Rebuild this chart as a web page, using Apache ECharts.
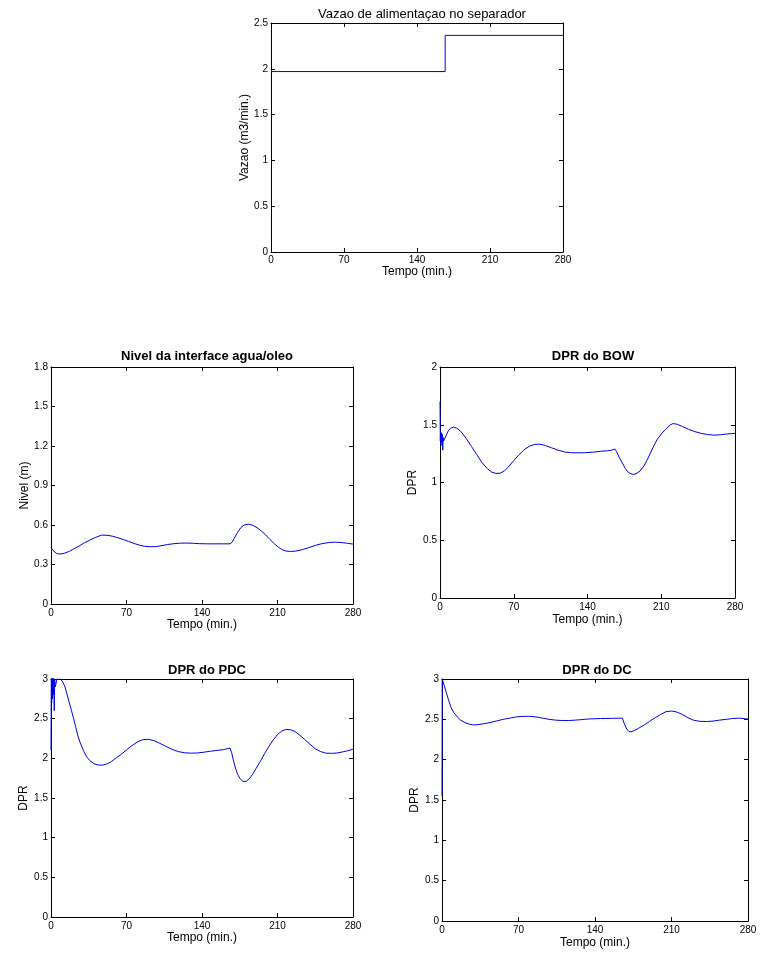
<!DOCTYPE html>
<html>
<head>
<meta charset="utf-8">
<script src="https://cdn.jsdelivr.net/npm/echarts@6/dist/echarts.min.js"></script>
<style>
html,body{margin:0;padding:0;background:#fff;}
#c{width:772px;height:953px;}
</style>
</head>
<body>
<div id="c"></div>
<script>
// ---- data ----
var timeTicks = [0, 70, 140, 210, 280];

var vazaoT = [0, 167, 167, 280];
var vazaoV = [1.97, 1.97, 2.365, 2.365];

var nivelT = [0, 1.5, 3, 5, 7, 10, 13, 17, 21, 26, 31, 36, 41, 47, 52, 57, 62, 67, 72, 77, 82, 87, 92, 97, 102, 108, 114, 120, 126, 132, 138, 145, 152, 160, 166, 168, 170, 173, 176, 179, 183, 187, 191, 195, 199, 203, 207, 211, 215, 218, 222, 227, 233, 239, 245, 251, 257, 263, 269, 275, 280];
var nivelV = [0.43, 0.41, 0.395, 0.385, 0.38, 0.381, 0.387, 0.40, 0.418, 0.44, 0.465, 0.485, 0.505, 0.523, 0.522, 0.515, 0.503, 0.49, 0.475, 0.46, 0.447, 0.438, 0.435, 0.436, 0.442, 0.452, 0.458, 0.462, 0.463, 0.461, 0.458, 0.457, 0.457, 0.457, 0.457, 0.47, 0.50, 0.545, 0.58, 0.60, 0.606, 0.598, 0.58, 0.555, 0.525, 0.49, 0.458, 0.43, 0.41, 0.402, 0.399, 0.402, 0.413, 0.428, 0.445, 0.458, 0.466, 0.47, 0.467, 0.461, 0.455];

var bowT = [0, 0.3, 0.6, 1.0, 1.4, 1.8, 2.2, 2.6, 3.0, 3.5, 4.5, 6, 8, 10, 13, 16, 20, 25, 30, 35, 40, 45, 49, 53, 57, 61, 65, 70, 75, 80, 85, 90, 95, 100, 106, 112, 118, 124, 130, 137, 145, 152, 159, 163, 166, 167.5, 170, 173, 176, 179, 183, 186, 190, 194, 198, 202, 206, 210, 214, 218, 221, 225, 230, 236, 242, 248, 254, 260, 266, 272, 280];
var bowV = [1.70, 1.36, 1.44, 1.32, 1.43, 1.35, 1.42, 1.28, 1.39, 1.36, 1.37, 1.41, 1.45, 1.47, 1.48, 1.47, 1.44, 1.38, 1.31, 1.24, 1.17, 1.12, 1.09, 1.079, 1.08, 1.10, 1.135, 1.19, 1.24, 1.285, 1.315, 1.33, 1.332, 1.32, 1.30, 1.28, 1.265, 1.258, 1.257, 1.258, 1.262, 1.27, 1.275, 1.28, 1.29, 1.27, 1.22, 1.17, 1.12, 1.085, 1.07, 1.075, 1.10, 1.15, 1.22, 1.30, 1.37, 1.42, 1.46, 1.495, 1.51, 1.505, 1.485, 1.46, 1.44, 1.425, 1.415, 1.41, 1.413, 1.42, 1.425];

var pdcT = [0, 0.3, 0.6, 1.0, 1.4, 1.8, 2.2, 2.6, 3.0, 3.4, 4.0, 5.5, 7, 9, 11, 13, 15, 17, 19, 21, 23, 25, 27, 30, 33, 36, 40, 44, 48, 52, 56, 60, 65, 70, 75, 80, 85, 90, 95, 100, 106, 112, 118, 124, 130, 136, 142, 148, 154, 160, 166, 167.5, 169, 171, 173, 175, 178, 181, 184, 187, 190, 194, 198, 202, 206, 210, 214, 218, 222, 226, 230, 235, 240, 245, 250, 255, 260, 265, 270, 275, 280];
var pdcV = [2.10, 3.2, 2.7, 3.1, 2.75, 3.1, 2.8, 3.05, 2.6, 3.0, 2.9, 3.0, 3.03, 3.0, 2.96, 2.9, 2.8, 2.7, 2.6, 2.5, 2.39, 2.28, 2.2, 2.1, 2.02, 1.97, 1.93, 1.915, 1.915, 1.93, 1.96, 2.0, 2.05, 2.105, 2.16, 2.205, 2.235, 2.24, 2.225, 2.195, 2.155, 2.115, 2.085, 2.07, 2.065, 2.068, 2.078, 2.09, 2.1, 2.11, 2.13, 2.07, 1.98, 1.88, 1.8, 1.75, 1.707, 1.71, 1.745, 1.8, 1.87, 1.96, 2.06, 2.15, 2.23, 2.3, 2.345, 2.365, 2.36, 2.34, 2.3, 2.24, 2.18, 2.12, 2.085, 2.065, 2.063, 2.067, 2.08, 2.095, 2.115];

var dcT = [0, 0.2, 2, 4, 6, 8.5, 11, 14, 17, 21, 25, 29, 33, 38, 44, 50, 56, 62, 68, 74, 80, 86, 92, 98, 104, 110, 116, 122, 128, 135, 145, 155, 165, 167, 169, 171, 173, 176, 180, 185, 190, 195, 200, 205, 210, 215, 220, 225, 230, 236, 242, 248, 254, 260, 266, 272, 280];
var dcV = [1.55, 3.0, 2.92, 2.83, 2.74, 2.64, 2.58, 2.53, 2.49, 2.46, 2.44, 2.43, 2.435, 2.445, 2.46, 2.48, 2.5, 2.515, 2.53, 2.537, 2.537, 2.53, 2.515, 2.5, 2.49, 2.485, 2.485, 2.49, 2.497, 2.505, 2.51, 2.512, 2.515, 2.44, 2.38, 2.35, 2.345, 2.36, 2.39, 2.43, 2.475, 2.52, 2.56, 2.595, 2.603, 2.59, 2.56, 2.52, 2.49, 2.475, 2.473, 2.478, 2.49, 2.5, 2.51, 2.515, 2.503];

var titles = ['Vazao de alimentaçao no separador', 'Nivel da interface agua/oleo', 'DPR do BOW', 'DPR do PDC', 'DPR do DC'];
var yNames = ['Vazao (m3/min.)', 'Nivel (m)', 'DPR', 'DPR', 'DPR'];
var xName = 'Tempo (min.)';
var yMax = [2.5, 1.8, 2, 3, 3];
var yStep = [0.5, 0.3, 0.5, 0.5, 0.5];

// ---- layout ----
var grids = [
  {left: 271, top: 23, width: 292, height: 229, tcx: 417, tcy: 3, xg: 13, yg: 17, lm: 3},
  {left: 51, top: 367, width: 302, height: 237, tcx: 202, tcy: 345, xg: 15, yg: 20, lm: 4},
  {left: 440, top: 367, width: 295, height: 231, tcx: 588, tcy: 345, xg: 16, yg: 21, lm: 4},
  {left: 51, top: 679, width: 302, height: 238, tcx: 202, tcy: 659, xg: 15, yg: 21, lm: 4},
  {left: 442, top: 679, width: 306, height: 242, tcx: 592, tcy: 659, xg: 16, yg: 21, lm: 4}
];
var allT = [vazaoT, nivelT, bowT, pdcT, dcT];
var allV = [vazaoV, nivelV, bowV, pdcV, dcV];

var FONT = 'Liberation Sans';
var option = {
  backgroundColor: '#fff',
  animation: false,
  title: [], grid: [], xAxis: [], yAxis: [], series: []
};

grids.forEach(function (g, i) {
  option.title.push({
    text: titles[i], left: g.tcx, top: g.tcy, textAlign: 'center',
    textStyle: {fontFamily: FONT, fontSize: 13, fontWeight: i === 0 ? 'normal' : 'bold', color: '#000'}
  });
  option.grid.push({left: g.left, top: g.top, width: g.width, height: g.height, show: false});
  var axLine = {show: true, onZero: false, lineStyle: {color: '#000', width: 1}};
  var tick = {show: true, inside: true, length: 4, lineStyle: {color: '#000'}};
  // bottom x
  option.xAxis.push({
    type: 'value', gridIndex: i, position: 'bottom', min: 0, max: 280, interval: 70,
    name: xName, nameLocation: 'middle', nameGap: g.xg,
    nameTextStyle: {fontFamily: FONT, fontSize: 12, color: '#000'},
    axisLine: axLine, axisTick: tick, splitLine: {show: false},
    axisLabel: {fontFamily: FONT, fontSize: 10, color: '#000', margin: g.lm}
  });
  // top x
  option.xAxis.push({
    type: 'value', gridIndex: i, position: 'top', min: 0, max: 280, interval: 70,
    axisLine: axLine, axisTick: tick, splitLine: {show: false}, axisLabel: {show: false}
  });
  // left y
  option.yAxis.push({
    type: 'value', gridIndex: i, position: 'left', min: 0, max: yMax[i], interval: yStep[i],
    name: yNames[i], nameLocation: 'middle', nameGap: g.yg, nameRotate: 90,
    nameTextStyle: {fontFamily: FONT, fontSize: 12, color: '#000'},
    axisLine: axLine, axisTick: tick, splitLine: {show: false},
    axisLabel: {fontFamily: FONT, fontSize: 10, color: '#000', margin: 3}
  });
  // right y
  option.yAxis.push({
    type: 'value', gridIndex: i, position: 'right', min: 0, max: yMax[i], interval: yStep[i],
    axisLine: axLine, axisTick: tick, splitLine: {show: false}, axisLabel: {show: false}
  });
  var pts = allT[i].map(function (t, k) { return [t, allV[i][k]]; });
  option.series.push({
    type: 'line', xAxisIndex: 2 * i, yAxisIndex: 2 * i, data: pts,
    showSymbol: false, symbol: 'none', clip: true, smooth: false,
    lineStyle: {color: '#0000e6', width: 1}
  });
});

var chart = echarts.init(document.getElementById('c'), null, {renderer: 'canvas'});
chart.setOption(option);
</script>
</body>
</html>
